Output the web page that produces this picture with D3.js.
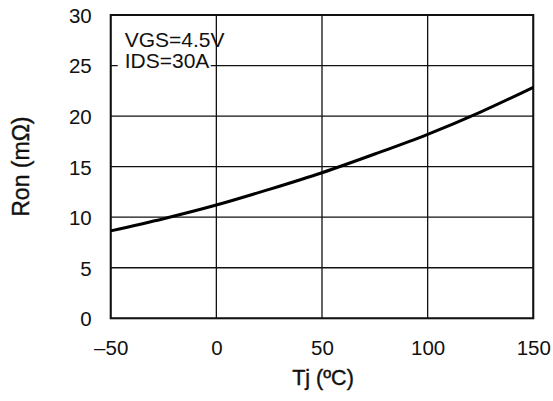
<!DOCTYPE html>
<html>
<head>
<meta charset="utf-8">
<script src="https://cdn.jsdelivr.net/npm/d3@7"></script>
<style>
  body { margin: 0; background: #fff; }
  text { font-family: "Liberation Sans", Arial, Helvetica, sans-serif; fill: #111; }
</style>
</head>
<body>
<div id="chart"></div>
<script>
/* DATA */
const tjValues = [-50, -25, 0, 25, 50, 75, 100, 125, 150];
const ronValues = [8.65, 9.85, 11.2, 12.75, 14.4, 16.25, 18.2, 20.4, 22.85];
const xTicks = [-50, 0, 50, 100, 150];
const xTickLabels = ["\u201350", "0", "50", "100", "150"];
const yTicks = [0, 5, 10, 15, 20, 25, 30];
const notes = ["VGS=4.5V", "IDS=30A"];

/* CONSTANTS */
const width = 553,
  height = 401,
  margin = { top: 15, bottom: 82.7, left: 110.7, right: 19.7 };

const svg = d3.select("#chart")
  .append("svg")
  .attr("width", width)
  .attr("height", height);

const xScale = d3.scaleLinear()
  .domain([-50, 150])
  .range([margin.left, width - margin.right]);

const yScale = d3.scaleLinear()
  .domain([0, 30])
  .range([height - margin.bottom, margin.top]);

// grid lines
svg.append("g")
  .selectAll("line.vgrid")
  .data(xTicks)
  .join("line")
  .attr("class", "vgrid")
  .attr("x1", d => xScale(d))
  .attr("x2", d => xScale(d))
  .attr("y1", yScale(0))
  .attr("y2", yScale(30))
  .attr("stroke", "#111")
  .attr("stroke-width", 1.3);

svg.append("g")
  .selectAll("line.hgrid")
  .data(yTicks)
  .join("line")
  .attr("class", "hgrid")
  .attr("x1", xScale(-50))
  .attr("x2", xScale(150))
  .attr("y1", d => yScale(d))
  .attr("y2", d => yScale(d))
  .attr("stroke", "#111")
  .attr("stroke-width", 1.3);

// axes (labels only, ticks hidden)
const xAxis = d3.axisBottom(xScale)
  .tickValues(xTicks)
  .tickFormat((d, i) => xTickLabels[i])
  .tickSize(0)
  .tickPadding(22);

const yAxis = d3.axisLeft(yScale)
  .tickValues(yTicks)
  .tickSize(0)
  .tickPadding(19);

svg.append("g")
  .attr("class", "axis x-axis")
  .attr("transform", `translate(0,${height - margin.bottom})`)
  .call(xAxis)
  .call(g => g.select(".domain").remove())
  .selectAll("text")
  .attr("font-size", 20.5)
  .attr("dy", "0.72em");

svg.append("g")
  .attr("class", "axis y-axis")
  .attr("transform", `translate(${margin.left},0)`)
  .call(yAxis)
  .call(g => g.select(".domain").remove())
  .selectAll("text")
  .attr("font-size", 20.5)
  .attr("dy", "0.36em");

// frame
svg.append("rect")
  .attr("x", xScale(-50))
  .attr("y", yScale(30))
  .attr("width", xScale(150) - xScale(-50))
  .attr("height", yScale(0) - yScale(30))
  .attr("fill", "none")
  .attr("stroke", "#111")
  .attr("stroke-width", 2);

// annotation with white box over the 25 grid line
svg.append("rect")
  .attr("x", xScale(-50) + 7)
  .attr("y", 51)
  .attr("width", 93)
  .attr("height", 21)
  .attr("fill", "#fff");

svg.append("g")
  .selectAll("text.note")
  .data(notes)
  .join("text")
  .attr("class", "note")
  .attr("x", xScale(-50) + 14)
  .attr("y", (d, i) => 46.5 + i * 21.5)
  .attr("font-size", 21)
  .text(d => d);

// curve
const lineFunc = d3.line()
  .x((d, i) => xScale(tjValues[i]))
  .y(d => yScale(d))
  .curve(d3.curveMonotoneX);

svg.append("path")
  .datum(ronValues)
  .attr("d", lineFunc)
  .attr("fill", "none")
  .attr("stroke", "#000")
  .attr("stroke-width", 3);

// axis titles
svg.append("text")
  .attr("x", (xScale(-50) + xScale(150)) / 2 + 1)
  .attr("y", 385)
  .attr("text-anchor", "middle")
  .attr("font-size", 21.5)
  .attr("stroke", "#111")
  .attr("stroke-width", 0.4)
  .text("Tj (\u00baC)");

svg.append("text")
  .attr("transform", `translate(29,${(yScale(0) + yScale(30)) / 2}) rotate(-90)`)
  .attr("text-anchor", "middle")
  .attr("font-size", 23)
  .attr("stroke", "#111")
  .attr("stroke-width", 0.4)
  .text("Ron (m\u03a9)");
</script>
</body>
</html>
